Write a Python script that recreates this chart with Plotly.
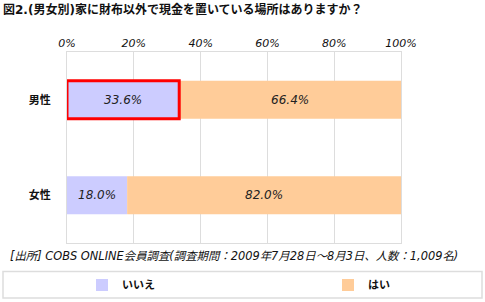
import plotly.graph_objects as go

categories = ["男性", "女性"]
no_values = [33.6, 18.0]
yes_values = [66.4, 82.0]
series_names = ["いいえ", "はい"]
tick_vals = [0, 20, 40, 60, 80, 100]
tick_text = ["0%", "20%", "40%", "60%", "80%", "100%"]
highlight_category = "男性"

title_text = "図2.(男女別)家に財布以外で現金を置いている場所はありますか？"
source_text = "[出所] COBS ONLINE会員調査(調査期間：2009年7月28日～8月3日、人数：1,009名)"

FONT = "DejaVu Sans, Noto Sans CJK JP"
CJK = "Noto Sans CJK JP"

fig = go.Figure()
fig.add_trace(go.Bar(
    y=categories, x=no_values, base=[0] * len(no_values), name=series_names[0], orientation="h",
    marker=dict(color="#CCCCFF", line=dict(width=0)),
    text=[f"{v:.1f}%" for v in no_values], textposition="inside",
    insidetextanchor="middle",
    textfont=dict(family=FONT, size=12, color="#222222", style="italic"),
    hoverinfo="skip", legend="legend",
))
fig.add_trace(go.Bar(
    y=categories, x=yes_values, base=no_values, name=series_names[1], orientation="h",
    marker=dict(color="#FFCC99", line=dict(width=0)),
    text=[f"{v:.1f}%" for v in yes_values], textposition="inside",
    insidetextanchor="middle",
    textfont=dict(family=FONT, size=12, color="#222222", style="italic"),
    hoverinfo="skip", legend="legend2",
))
# red highlight outline on the 男性 / いいえ bar
hi = categories.index(highlight_category)
fig.add_trace(go.Bar(
    y=[categories[hi]], x=[no_values[hi]], base=[0], orientation="h", showlegend=False,
    marker=dict(color="rgba(0,0,0,0)", line=dict(color="#FF0000", width=3)),
    hoverinfo="skip",
))

W, H = 485, 302
L, R, T, B = 67, 84, 52, 59
pw = W - L - R
ph = H - T - B

def px_x(px):
    return (px - L) / pw

def px_y(py):
    return (H - B - py) / ph

legend_common = dict(orientation="h", xanchor="left", y=px_y(285), yanchor="middle",
                     bgcolor="rgba(0,0,0,0)",
                     font=dict(family=CJK, size=11, color="#111111", weight="bold"),
                     itemclick=False, itemdoubleclick=False)

fig.update_layout(
    width=W, height=H,
    margin=dict(l=L, r=R, t=T, b=B, autoexpand=False),
    barmode="overlay", bargap=0.6,
    paper_bgcolor="white", plot_bgcolor="white",
    font=dict(family=FONT, size=11, color="#111111"),
    title=dict(text=title_text, x=3 / W, xanchor="left", y=1 - 10 / H, yanchor="middle",
               font=dict(family=FONT, size=12, color="#111111", weight="bold")),
    xaxis=dict(side="top", range=[0, 100], tickvals=tick_vals, ticktext=tick_text,
               showgrid=True, gridcolor="#DDDDDD", gridwidth=1, zeroline=False,
               showline=True, linecolor="#DDDDDD", mirror=True, ticks="",
               tickfont=dict(family=FONT, size=11, color="#111111", style="italic")),
    yaxis=dict(categoryorder="array", categoryarray=categories, autorange="reversed",
               showgrid=False, zeroline=False, showline=True, linecolor="#DDDDDD",
               mirror=True, ticks="", ticklabelstandoff=13,
               tickfont=dict(family=CJK, size=11, color="#111111", weight="bold")),
    legend=dict(x=px_x(82), **legend_common),
    legend2=dict(x=px_x(328), **legend_common),
    showlegend=True,
)

fig.add_shape(type="rect", xref="paper", yref="paper",
              x0=px_x(3), x1=px_x(482), y0=px_y(271.5), y1=px_y(298),
              line=dict(color="#DDDDDD", width=1.5), fillcolor="rgba(0,0,0,0)", layer="below")

fig.add_annotation(text=source_text, xref="paper", yref="paper",
                   x=px_x(8), y=px_y(256), xanchor="left", yanchor="middle", showarrow=False,
                   font=dict(family=FONT, size=11.4, color="#111111", style="italic"))

fig.write_html("out.html")
